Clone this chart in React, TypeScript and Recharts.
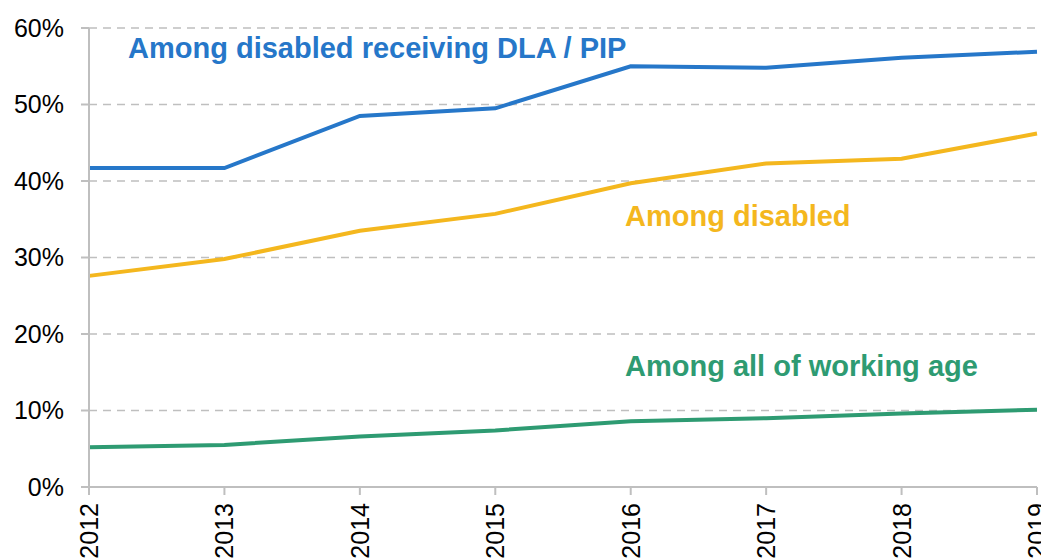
import { CartesianGrid, Line, LineChart, XAxis, YAxis } from "recharts";

const years = ["2012", "2013", "2014", "2015", "2016", "2017", "2018", "2019"];
const dlaPip = [41.7, 41.7, 48.5, 49.5, 55.0, 54.8, 56.1, 56.9];
const disabled = [27.6, 29.8, 33.5, 35.7, 39.7, 42.3, 42.9, 46.2];
const workingAge = [5.2, 5.5, 6.6, 7.4, 8.6, 9.0, 9.6, 10.1];
const yTicks = [0, 10, 20, 30, 40, 50, 60];

const data = years.map((year, i) => ({
  year,
  dlaPip: dlaPip[i],
  disabled: disabled[i],
  workingAge: workingAge[i],
}));

const FONT = '"Liberation Sans", Arial, sans-serif';
const BLUE = "#2677C9";
const ORANGE = "#F4B71E";
const GREEN = "#2E9B72";
const GREY = "#BFBFBF";

const YearTick = ({ x, y, payload }: any) => (
  <text
    transform={`translate(${x},${y}) rotate(-90)`}
    textAnchor="end"
    dy="0.36em"
    fontSize={25}
    fontFamily={FONT}
    fill="#000"
  >
    {payload.value}
  </text>
);

export default function App() {
  return (
    <div style={{ position: "relative", width: 1041, height: 551 }}>
      <LineChart
        width={1041}
        height={551}
        data={data}
        margin={{ top: 20, right: 12, left: 0, bottom: 0 }}
        style={{ overflow: "visible" }}
      >
        <CartesianGrid
          vertical={false}
          stroke={GREY}
          strokeWidth={1.5}
          strokeDasharray="8 6"
        />
        <XAxis
          dataKey="year"
          height={72}
          axisLine={{ stroke: GREY, strokeWidth: 2 }}
          tickLine={{ stroke: GREY, strokeWidth: 2 }}
          tickSize={8}
          tickMargin={8}
          tick={<YearTick />}
          interval={0}
        />
        <YAxis
          width={81}
          domain={[0, 60]}
          ticks={yTicks}
          tickFormatter={(v) => `${v}%`}
          axisLine={{ stroke: GREY, strokeWidth: 2 }}
          tickLine={{ stroke: GREY, strokeWidth: 2 }}
          tickSize={8}
          tickMargin={17}
          tick={{ fontSize: 25, fontFamily: FONT, fill: "#000" }}
        />
        <Line
          dataKey="workingAge"
          stroke={GREEN}
          strokeWidth={4}
          dot={false}
          isAnimationActive={false}
        />
        <Line
          dataKey="disabled"
          stroke={ORANGE}
          strokeWidth={4}
          dot={false}
          isAnimationActive={false}
        />
        <Line
          dataKey="dlaPip"
          stroke={BLUE}
          strokeWidth={4}
          dot={false}
          isAnimationActive={false}
        />
      </LineChart>
      <svg
        width={1041}
        height={551}
        style={{ position: "absolute", left: 0, top: 0, pointerEvents: "none" }}
      >
        <g fontFamily={FONT} fontWeight="bold" fontSize={29}>
          <text x={120} y={50} fill={BLUE}>
            Among disabled receiving DLA / PIP
          </text>
          <text x={617} y={218} fill={ORANGE}>
            Among disabled
          </text>
          <text x={617} y={368} fill={GREEN}>
            Among all of working age
          </text>
        </g>
      </svg>
    </div>
  );
}
